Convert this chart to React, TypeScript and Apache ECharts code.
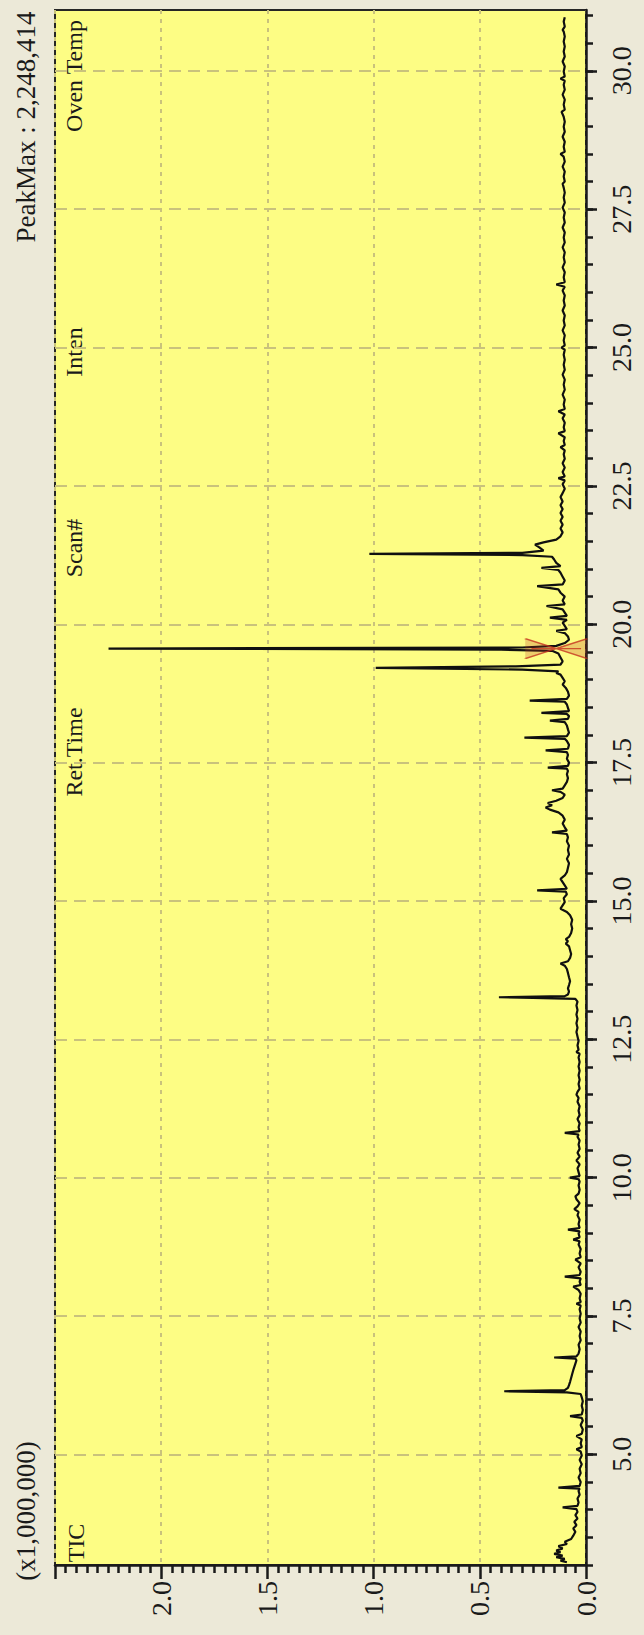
import { useEffect, useRef } from "react";
import * as echarts from "echarts";

// Retention-time axis (minutes): labelled ticks and the 0.5 min minor ticks.
const retTimeMajorTicks = [5.0, 7.5, 10.0, 12.5, 15.0, 17.5, 20.0, 22.5, 25.0, 27.5, 30.0];
const retTimeMinorTicks = [
  3.0, 3.5, 4.0, 4.5, 5.0, 5.5, 6.0, 6.5, 7.0, 7.5, 8.0, 8.5, 9.0, 9.5, 10.0, 10.5, 11.0,
  11.5, 12.0, 12.5, 13.0, 13.5, 14.0, 14.5, 15.0, 15.5, 16.0, 16.5, 17.0, 17.5, 18.0, 18.5,
  19.0, 19.5, 20.0, 20.5, 21.0, 21.5, 22.0, 22.5, 23.0, 23.5, 24.0, 24.5, 25.0, 25.5, 26.0,
  26.5, 27.0, 27.5, 28.0, 28.5, 29.0, 29.5, 30.0, 30.5, 31.0,
];
const retTimeRange = [3.0, 31.1];

// Intensity axis, in units of 1,000,000 counts.
const intensityRange = [0, 2.5];
const intensityStep = 0.5;

// Total ion chromatogram: [retention time (min), intensity (x1,000,000)].
const ticTrace: [number, number][] = [
  [3.05, 0.09], [3.08, 0.12], [3.11, 0.1], [3.14, 0.14], [3.17, 0.11], [3.2, 0.15], [3.23, 0.12],
  [3.26, 0.14], [3.3, 0.11], [3.34, 0.13], [3.38, 0.09], [3.42, 0.1], [3.47, 0.07], [3.53, 0.06],
  [3.6, 0.05], [3.66, 0.06], [3.72, 0.045], [3.78, 0.055], [3.84, 0.04], [3.9, 0.05], [3.96, 0.04],
  [4.01, 0.045], [4.04, 0.11], [4.07, 0.04], [4.13, 0.035], [4.2, 0.04], [4.27, 0.03], [4.34, 0.035],
  [4.38, 0.03], [4.4, 0.13], [4.43, 0.03], [4.5, 0.025], [4.58, 0.035], [4.66, 0.025], [4.74, 0.03],
  [4.82, 0.02], [4.9, 0.03], [4.98, 0.02], [5.05, 0.025], [5.09, 0.045], [5.13, 0.02], [5.2, 0.025],
  [5.27, 0.02], [5.33, 0.045], [5.37, 0.02], [5.45, 0.015], [5.53, 0.025], [5.61, 0.015], [5.66, 0.02],
  [5.69, 0.075], [5.72, 0.02], [5.8, 0.015], [5.88, 0.02], [5.96, 0.015], [6.03, 0.02], [6.09, 0.025],
  [6.12, 0.09], [6.14, 0.385], [6.16, 0.1], [6.2, 0.085], [6.25, 0.08], [6.31, 0.075], [6.38, 0.07],
  [6.45, 0.065], [6.52, 0.06], [6.58, 0.055], [6.64, 0.05], [6.7, 0.045], [6.73, 0.05], [6.75, 0.15],
  [6.77, 0.045], [6.82, 0.035], [6.9, 0.03], [6.98, 0.035], [7.06, 0.025], [7.14, 0.03], [7.22, 0.025],
  [7.3, 0.035], [7.38, 0.025], [7.46, 0.03], [7.54, 0.025], [7.62, 0.03], [7.69, 0.025], [7.72, 0.045],
  [7.75, 0.025], [7.82, 0.03], [7.9, 0.025], [7.97, 0.035], [8.03, 0.06], [8.06, 0.025], [8.12, 0.03],
  [8.18, 0.025], [8.21, 0.1], [8.24, 0.03], [8.3, 0.025], [8.38, 0.035], [8.45, 0.025], [8.52, 0.05],
  [8.56, 0.025], [8.63, 0.03], [8.71, 0.025], [8.79, 0.035], [8.85, 0.03], [8.88, 0.06], [8.92, 0.03],
  [8.99, 0.035], [9.03, 0.03], [9.06, 0.085], [9.09, 0.03], [9.16, 0.035], [9.24, 0.03], [9.32, 0.04],
  [9.38, 0.035], [9.43, 0.055], [9.48, 0.04], [9.54, 0.03], [9.61, 0.045], [9.66, 0.05], [9.71, 0.035],
  [9.78, 0.03], [9.86, 0.035], [9.93, 0.03], [9.97, 0.035], [10.0, 0.076], [10.03, 0.03], [10.1, 0.035],
  [10.17, 0.04], [10.24, 0.03], [10.31, 0.045], [10.38, 0.03], [10.45, 0.04], [10.52, 0.03], [10.6, 0.035],
  [10.67, 0.03], [10.74, 0.04], [10.78, 0.035], [10.81, 0.1], [10.84, 0.03], [10.91, 0.035], [10.98, 0.03],
  [11.06, 0.04], [11.13, 0.03], [11.21, 0.035], [11.29, 0.03], [11.37, 0.04], [11.44, 0.035], [11.5, 0.045],
  [11.55, 0.04], [11.61, 0.03], [11.69, 0.035], [11.77, 0.03], [11.85, 0.035], [11.93, 0.03], [12.01, 0.035],
  [12.09, 0.03], [12.17, 0.035], [12.24, 0.03], [12.27, 0.045], [12.31, 0.035], [12.39, 0.04], [12.47, 0.035],
  [12.55, 0.04], [12.63, 0.045], [12.71, 0.04], [12.79, 0.045], [12.87, 0.04], [12.95, 0.045], [13.03, 0.04],
  [13.11, 0.045], [13.18, 0.04], [13.23, 0.05], [13.25, 0.25], [13.26, 0.41], [13.28, 0.1], [13.31, 0.085],
  [13.36, 0.08], [13.42, 0.085], [13.48, 0.08], [13.55, 0.075], [13.62, 0.08], [13.7, 0.085], [13.77, 0.09],
  [13.83, 0.1], [13.87, 0.12], [13.91, 0.085], [13.97, 0.075], [14.04, 0.07], [14.11, 0.075], [14.18, 0.08],
  [14.23, 0.095], [14.27, 0.085], [14.31, 0.095], [14.35, 0.08], [14.42, 0.07], [14.5, 0.065], [14.58, 0.07],
  [14.66, 0.065], [14.74, 0.075], [14.8, 0.09], [14.86, 0.12], [14.92, 0.11], [14.98, 0.1], [15.05, 0.105],
  [15.12, 0.09], [15.17, 0.095], [15.19, 0.23], [15.22, 0.09], [15.28, 0.1], [15.34, 0.11], [15.4, 0.12],
  [15.46, 0.1], [15.52, 0.09], [15.6, 0.085], [15.68, 0.08], [15.76, 0.09], [15.84, 0.08], [15.92, 0.085],
  [16.0, 0.08], [16.08, 0.09], [16.15, 0.085], [16.21, 0.09], [16.24, 0.16], [16.27, 0.09], [16.33, 0.1],
  [16.4, 0.11], [16.47, 0.1], [16.54, 0.11], [16.6, 0.13], [16.65, 0.17], [16.69, 0.19], [16.73, 0.16],
  [16.77, 0.18], [16.81, 0.14], [16.86, 0.11], [16.92, 0.1], [16.97, 0.12], [17.0, 0.16], [17.03, 0.11],
  [17.09, 0.1], [17.15, 0.09], [17.22, 0.085], [17.29, 0.09], [17.35, 0.085], [17.39, 0.09], [17.41, 0.18],
  [17.44, 0.085], [17.5, 0.08], [17.57, 0.09], [17.64, 0.085], [17.69, 0.09], [17.72, 0.19], [17.75, 0.085],
  [17.82, 0.08], [17.89, 0.09], [17.93, 0.1], [17.95, 0.29], [17.98, 0.09], [18.04, 0.08], [18.1, 0.085],
  [18.17, 0.09], [18.23, 0.1], [18.26, 0.17], [18.29, 0.085], [18.34, 0.08], [18.38, 0.09], [18.4, 0.21],
  [18.43, 0.08], [18.49, 0.085], [18.55, 0.09], [18.6, 0.1], [18.62, 0.265], [18.65, 0.09], [18.71, 0.08],
  [18.78, 0.085], [18.85, 0.095], [18.91, 0.11], [18.97, 0.1], [19.03, 0.11], [19.09, 0.12], [19.12, 0.14],
  [19.15, 0.13], [19.18, 0.3], [19.21, 0.99], [19.24, 0.33], [19.27, 0.12], [19.33, 0.11], [19.4, 0.12],
  [19.47, 0.13], [19.52, 0.16], [19.54, 0.4], [19.56, 2.248], [19.58, 0.3], [19.61, 0.14], [19.66, 0.1],
  [19.72, 0.08], [19.78, 0.085], [19.84, 0.1], [19.88, 0.14], [19.91, 0.09], [19.97, 0.1], [20.03, 0.11],
  [20.08, 0.09], [20.12, 0.17], [20.15, 0.09], [20.21, 0.1], [20.27, 0.11], [20.33, 0.186], [20.36, 0.1],
  [20.43, 0.11], [20.5, 0.1], [20.57, 0.12], [20.63, 0.13], [20.69, 0.23], [20.72, 0.11], [20.79, 0.1],
  [20.86, 0.11], [20.93, 0.12], [20.98, 0.13], [21.02, 0.21], [21.05, 0.12], [21.11, 0.14], [21.17, 0.15],
  [21.22, 0.16], [21.25, 0.3], [21.27, 1.02], [21.29, 0.3], [21.33, 0.2], [21.39, 0.22], [21.44, 0.24],
  [21.48, 0.2], [21.53, 0.14], [21.59, 0.12], [21.66, 0.11], [21.73, 0.12], [21.8, 0.11], [21.87, 0.12],
  [21.94, 0.11], [22.01, 0.12], [22.08, 0.11], [22.15, 0.12], [22.22, 0.11], [22.3, 0.12], [22.37, 0.11],
  [22.45, 0.1], [22.53, 0.11], [22.6, 0.1], [22.64, 0.13], [22.67, 0.1], [22.75, 0.11], [22.83, 0.1],
  [22.91, 0.11], [22.99, 0.1], [23.07, 0.105], [23.14, 0.1], [23.2, 0.12], [23.24, 0.1], [23.31, 0.105],
  [23.38, 0.1], [23.45, 0.13], [23.49, 0.1], [23.56, 0.105], [23.64, 0.1], [23.72, 0.11], [23.79, 0.1],
  [23.85, 0.13], [23.89, 0.1], [23.97, 0.105], [24.06, 0.1], [24.15, 0.11], [24.24, 0.1], [24.33, 0.105],
  [24.42, 0.1], [24.51, 0.11], [24.6, 0.1], [24.69, 0.105], [24.78, 0.1], [24.87, 0.105], [24.96, 0.1],
  [25.0, 0.115], [25.04, 0.1], [25.13, 0.105], [25.22, 0.1], [25.31, 0.11], [25.4, 0.1], [25.49, 0.105],
  [25.58, 0.1], [25.67, 0.11], [25.76, 0.1], [25.85, 0.105], [25.94, 0.1], [26.03, 0.11], [26.1, 0.1],
  [26.14, 0.14], [26.18, 0.1], [26.27, 0.105], [26.36, 0.1], [26.45, 0.11], [26.54, 0.1], [26.63, 0.105],
  [26.72, 0.1], [26.81, 0.11], [26.9, 0.1], [26.99, 0.105], [27.08, 0.1], [27.17, 0.11], [27.26, 0.1],
  [27.35, 0.105], [27.44, 0.1], [27.53, 0.11], [27.62, 0.1], [27.71, 0.105], [27.8, 0.1], [27.89, 0.105],
  [27.96, 0.11], [28.0, 0.1], [28.09, 0.105], [28.18, 0.1], [28.27, 0.11], [28.36, 0.1], [28.45, 0.105],
  [28.5, 0.12], [28.54, 0.1], [28.63, 0.105], [28.72, 0.1], [28.81, 0.11], [28.9, 0.1], [28.99, 0.105],
  [29.08, 0.1], [29.17, 0.105], [29.26, 0.115], [29.3, 0.1], [29.39, 0.105], [29.48, 0.1], [29.57, 0.11],
  [29.66, 0.1], [29.75, 0.105], [29.82, 0.1], [29.86, 0.12], [29.9, 0.1], [29.99, 0.105], [30.08, 0.1],
  [30.17, 0.11], [30.26, 0.1], [30.35, 0.105], [30.44, 0.1], [30.53, 0.105], [30.62, 0.1], [30.71, 0.105],
  [30.74, 0.11], [30.8, 0.1], [30.89, 0.105], [30.97, 0.1],
];

// Integration marker placed on the base of the main peak: [ret. time, intensity].
const markedPeak: [number, number] = [19.56, 0.14];

const peakMaxText = "PeakMax : 2,248,414";
const scaleText = "(x1,000,000)";
const traceName = "TIC";
const columnHeaders = ["Oven Temp", "Inten", "Scan#", "Ret.Time"];

const SERIF = '"Liberation Serif", "Times New Roman", serif';
const INK = "#1a1a1a";
const GRID_LINE = "#c9c27c";

export default function App() {
  const ref = useRef<HTMLDivElement>(null);

  useEffect(() => {
    if (!ref.current) return;
    const chart = echarts.init(ref.current, undefined, { renderer: "svg" });

    const headerY = [76, 352, 548, 752];
    const rotated = Math.PI / 2;
    const label = (text: string, x: number, y: number, size: number) => ({
      type: "text",
      x,
      y,
      rotation: rotated,
      silent: true,
      style: {
        text,
        fill: INK,
        fontFamily: SERIF,
        fontSize: size,
        align: "center",
        verticalAlign: "middle",
        textAlign: "center",
        textVerticalAlign: "middle",
      },
    });

    chart.setOption({
      animation: false,
      backgroundColor: "#ece9d8",
      grid: {
        left: 55,
        right: 58,
        top: 10,
        bottom: 70,
        show: true,
        backgroundColor: "#fdfd84",
        borderColor: "#262626",
        borderWidth: 2,
      },
      xAxis: {
        type: "value",
        inverse: true,
        position: "bottom",
        min: intensityRange[0],
        max: intensityRange[1],
        interval: intensityStep,
        axisLine: { show: true, onZero: false, lineStyle: { color: INK, width: 2.5 } },
        axisTick: { show: true, length: 14, lineStyle: { color: INK, width: 2.5 } },
        minorTick: { show: true, splitNumber: 10, length: 8, lineStyle: { color: INK, width: 2.5 } },
        axisLabel: {
          rotate: 90,
          margin: 16,
          fontFamily: SERIF,
          fontSize: 28,
          color: INK,
          formatter: (v: number) => (v > 2.01 ? "" : v.toFixed(1)),
        },
        splitLine: { show: true, lineStyle: { color: GRID_LINE, type: [4, 5], width: 2 } },
      },
      yAxis: [
        {
          type: "value",
          position: "right",
          min: retTimeRange[0],
          max: retTimeRange[1],
          axisLine: { show: true, onZero: false, lineStyle: { color: INK, width: 2.5 } },
          axisTick: {
            show: true,
            length: 11,
            customValues: retTimeMajorTicks,
            lineStyle: { color: INK, width: 2.5 },
          },
          axisLabel: {
            rotate: 90,
            margin: 21,
            customValues: retTimeMajorTicks,
            fontFamily: SERIF,
            fontSize: 28,
            color: INK,
            formatter: (v: number) => v.toFixed(1),
          },
          splitLine: { show: true, lineStyle: { color: GRID_LINE, type: [12, 7], width: 2 } },
        },
        {
          type: "value",
          position: "right",
          min: retTimeRange[0],
          max: retTimeRange[1],
          axisLine: { show: false },
          axisTick: {
            show: true,
            length: 7,
            customValues: retTimeMinorTicks,
            lineStyle: { color: INK, width: 2.5 },
          },
          axisLabel: { show: false },
          splitLine: { show: false },
        },
      ],
      series: [
        {
          type: "line",
          name: traceName,
          xAxisIndex: 0,
          yAxisIndex: 0,
          data: ticTrace.map(([t, v]) => [v, t]),
          symbol: "none",
          silent: true,
          lineStyle: { color: "#101010", width: 2.2 },
        },
        {
          type: "scatter",
          xAxisIndex: 0,
          yAxisIndex: 0,
          data: [[markedPeak[1], markedPeak[0]]],
          symbol: "path://M0,0 L30,10 L0,20 M60,0 L30,10 L60,20 M6,10 L54,10",
          symbolSize: [62, 20],
          silent: true,
          itemStyle: { color: "rgba(190,50,30,0.3)", borderColor: "#c4321e", borderWidth: 2 },
          z: 5,
        },
      ],
      graphic: [
        label(peakMaxText, 26, 127, 27),
        label(scaleText, 26, 1511, 27),
        label(traceName, 76, 1543, 24),
        ...columnHeaders.map((h, i) => label(h, 74, headerY[i], 24)),
      ],
    });

    return () => chart.dispose();
  }, []);

  return (
    <div
      ref={ref}
      style={{ position: "absolute", left: 0, top: 0, width: 644, height: 1635 }}
    />
  );
}
